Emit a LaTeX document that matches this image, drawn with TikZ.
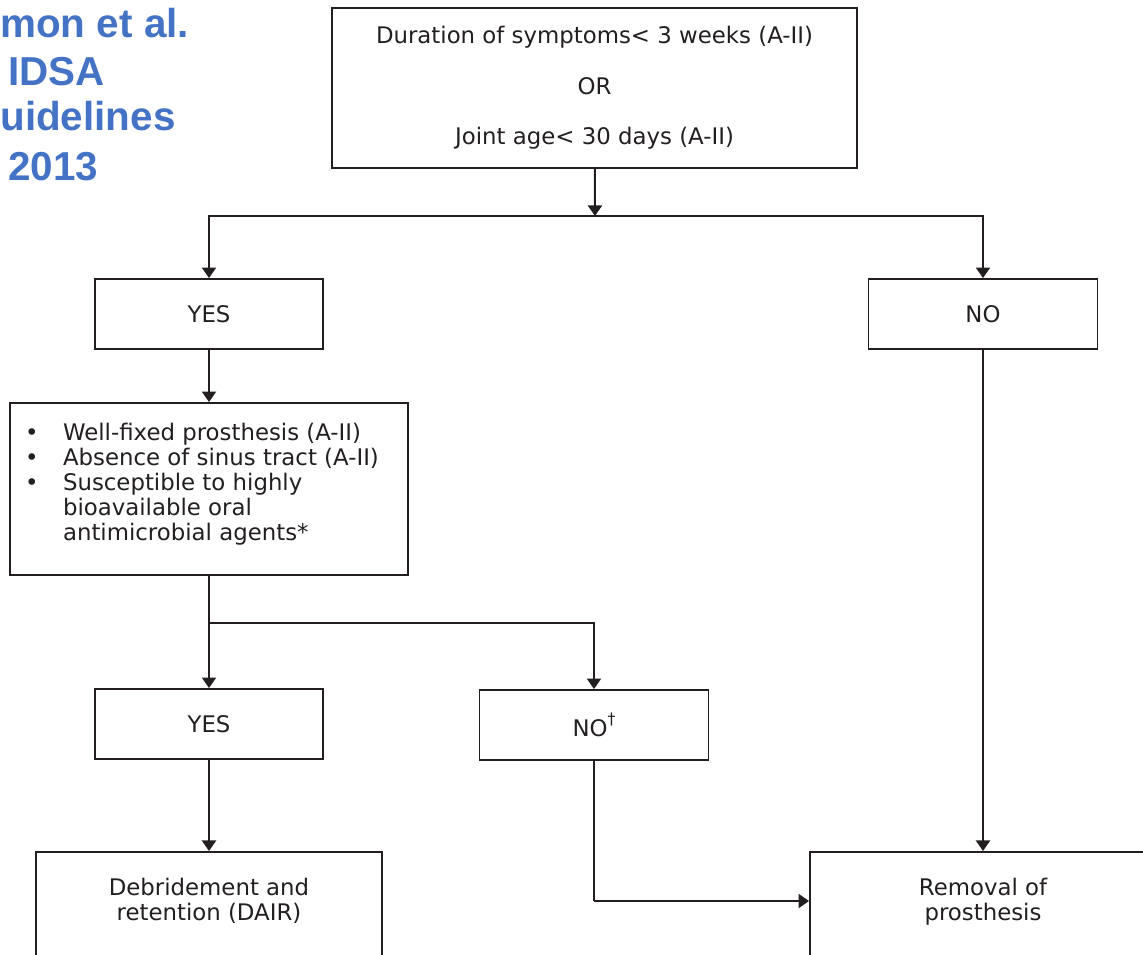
\documentclass[tikz,border=0pt]{standalone}
\usepackage{fontspec}
\setmainfont{DejaVu Sans}
\newfontfamily\titlefont{Liberation Sans}
\usepackage{tkz-euclide}
\usetikzlibrary{calc}
\usetikzlibrary{positioning}
\usetikzlibrary{arrows.meta}
\definecolor{idsablue}{HTML}{4472C4}
\definecolor{inkgrey}{HTML}{231F20}

\begin{document}
\begin{tikzpicture}[x=0.02cm, y=-0.02cm,
    box/.style={draw=inkgrey, line width=1.1pt, inner sep=0pt, text=inkgrey,
      font=\fontsize{13}{14.2}\selectfont, align=center},
    link/.style={draw=inkgrey, line width=1.1pt},
    arr/.style={link, -{Triangle[width=8pt, length=6pt]}},
    title/.style={text=idsablue, font=\titlefont\bfseries\fontsize{23}{28}\selectfont,
      inner sep=0pt, anchor=base west}]
  \useasboundingbox (0,0) rectangle (1143,954);
  \clip (0,0) rectangle (1143,954);

  % junctions of the connectors
  \tkzDefPoints{595/216/J, 209/623/K, 594/901/L}

  % title in the corner
  \node[title] (titleA) at (0,37) {mon et al.};
  \node[title] (titleB) at (8,85) {IDSA};
  \node[title] (titleC) at (0,130) {uidelines};
  \node[title] (titleD) at (8,180) {2013};

  % boxes
  \node[box, minimum width=10.5cm, minimum height=3.2cm] (onset) at (594.5,88)
    {Duration of symptoms< 3 weeks (A-II)\\[14.6pt]OR\\[14.6pt]Joint age< 30 days (A-II)};
  \node[box, minimum width=4.56cm, minimum height=1.4cm] (yesA) at (209,314) {YES};
  \node[box, minimum width=4.58cm, minimum height=1.4cm] (noA) at (983,314) {NO};
  \node[box, minimum width=7.96cm, minimum height=3.44cm] (crit) at (209,489)
    {\begin{tabular}{@{}p{0.76cm}@{}p{6.6cm}@{}}
      • & Well-fixed prosthesis (A-II)\\
      • & Absence of sinus tract (A-II)\\
      • & Susceptible to highly\\
        & bioavailable oral\\
        & antimicrobial agents*\\[4pt]
    \end{tabular}};
  \node[box, minimum width=4.56cm, minimum height=1.4cm] (yesB) at (209,724) {YES};
  \node[box, minimum width=4.58cm, minimum height=1.4cm] (noB) at (594,725)
    {NO\raisebox{0.9ex}{\fontsize{9}{9}\selectfont †}};
  \node[box, minimum width=6.92cm, inner ysep=0.53cm, anchor=north] (dair) at (209,851)
    {\begin{tabular}{@{}c@{}}Debridement and\\retention (DAIR)\\[2cm]\end{tabular}};
  \node[box, minimum width=6.92cm, inner ysep=0.53cm, anchor=north] (removal) at (983,851)
    {\begin{tabular}{@{}c@{}}Removal of\\prosthesis\\[2cm]\end{tabular}};

  % connectors
  \draw[arr] (onset) -- (J);
  \draw[arr] (J) -| (yesA);
  \draw[arr] (J) -| (noA);
  \draw[arr] (yesA) -- (crit);
  \draw[arr] (crit) -- (yesB);
  \draw[arr] (K) -| (noB);
  \draw[arr] (yesB) -- (dair);
  \draw[arr] (noA) -- (removal);
  \draw[link] (noB) -- (L);
  \draw[arr] (L) -- (removal.west |- L);
\end{tikzpicture}
\end{document}
